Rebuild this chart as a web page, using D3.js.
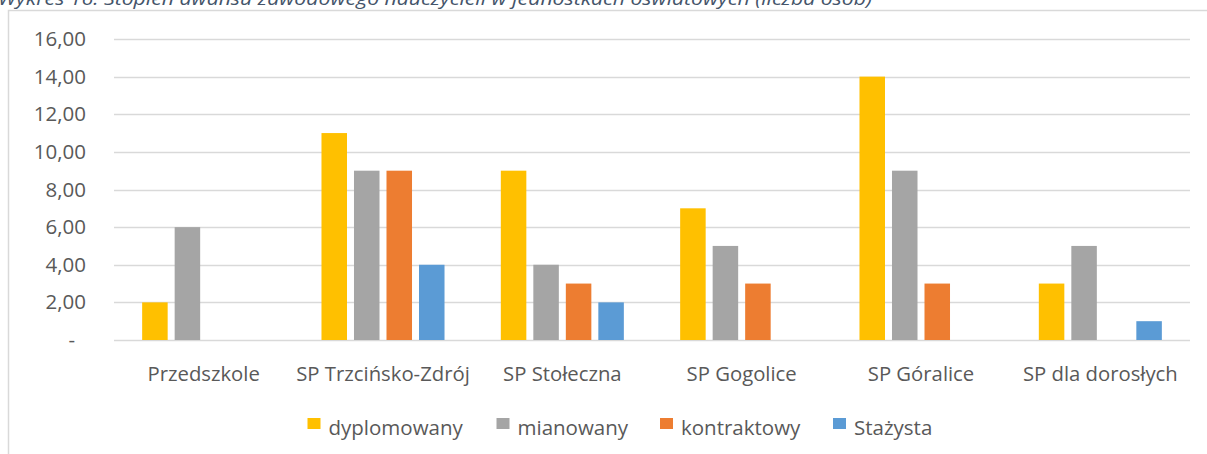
<!DOCTYPE html>
<html>
<head>
<meta charset="utf-8">
<script src="https://cdn.jsdelivr.net/npm/d3@7"></script>
<style>
  body { margin: 0; background: #fff; }
  svg { display: block; }
  text { font-family: "Open Sans", "Noto Sans", sans-serif; }
</style>
</head>
<body>
<div id="chart"></div>
<script>
// chart data
var categories = ["Przedszkole", "SP Trzcińsko-Zdrój", "SP Stołeczna", "SP Gogolice", "SP Góralice", "SP dla dorosłych"];
var seriesNames = ["dyplomowany", "mianowany", "kontraktowy", "Stażysta"];
var dyplomowany = [2, 11, 9, 7, 14, 3];
var mianowany = [6, 9, 4, 5, 9, 5];
var kontraktowy = [0, 9, 3, 3, 3, 0];
var stazysta = [0, 4, 2, 0, 0, 1];
var yTicks = [0, 2, 4, 6, 8, 10, 12, 14, 16];
var colors = ["#FFC000", "#A5A5A5", "#ED7D31", "#5B9BD5"];

var seriesValues = [dyplomowany, mianowany, kontraktowy, stazysta];

var svgWidth = 1207;
var svgHeight = 454;

// plot area
var plot = { left: 114, right: 1190, top: 39, bottom: 340 };

var svg = d3.select("#chart")
  .append("svg")
  .attr("width", svgWidth)
  .attr("height", svgHeight);

// chart frame (left and top edges visible)
svg.append("path")
  .attr("d", "M8.5," + svgHeight + "V10.5H" + svgWidth)
  .attr("fill", "none")
  .attr("stroke", "#D9D9D9")
  .attr("stroke-width", 1.5);

// title, cut at the top of the picture like in the source
svg.append("text")
  .attr("x", -2)
  .attr("y", 5)
  .attr("fill", "#44546A")
  .style("font-size", "19px")
  .style("font-style", "italic")
  .attr("textLength", 874)
  .attr("lengthAdjust", "spacingAndGlyphs")
  .text("Wykres 16. Stopień awansu zawodowego nauczycieli w jednostkach oświatowych (liczba osób)");

var y = d3.scaleLinear()
  .domain([0, 16])
  .range([plot.bottom, plot.top]);

var x0 = d3.scaleBand()
  .domain(categories)
  .range([plot.left, plot.right])
  .paddingInner(0.275)
  .paddingOuter(0.1375);

var x1 = d3.scaleBand()
  .domain(seriesNames)
  .range([0, x0.bandwidth()])
  .paddingInner(0.215)
  .paddingOuter(0.1075);

// gridlines
svg.append("g")
  .selectAll("line")
  .data(yTicks)
  .enter()
  .append("line")
  .attr("x1", plot.left)
  .attr("x2", plot.right)
  .attr("y1", d => Math.round(y(d)) + 0.5)
  .attr("y2", d => Math.round(y(d)) + 0.5)
  .attr("stroke", "#D9D9D9")
  .attr("stroke-width", 1.3);

// y axis labels
var leftAxis = d3.axisLeft(y)
  .tickValues(yTicks)
  .tickSize(0)
  .tickPadding(0)
  .tickFormat(d => d === 0 ? "-" : d.toFixed(2).replace(".", ","));

var yAxis = svg.append("g")
  .attr("transform", "translate(86,0)")
  .call(leftAxis);
yAxis.select(".domain").remove();
yAxis.selectAll("text")
  .attr("fill", "#595959")
  .style("font-size", "20.5px")
  .attr("dx", d => d === 0 ? -11 : 0);

// bars
var groups = svg.append("g")
  .selectAll("g")
  .data(categories)
  .enter()
  .append("g")
  .attr("transform", d => "translate(" + x0(d) + ",0)");

groups.selectAll("rect")
  .data((d, i) => seriesNames.map((s, j) => ({ series: s, value: seriesValues[j][i], color: colors[j] })))
  .enter()
  .filter(d => d.value > 0)
  .append("rect")
  .attr("x", d => x1(d.series))
  .attr("width", x1.bandwidth())
  .attr("y", d => y(d.value))
  .attr("height", d => y(0) - y(d.value))
  .attr("fill", d => d.color);

// category labels
var bottomAxis = d3.axisBottom(x0)
  .tickSize(0)
  .tickPadding(0);

var xAxis = svg.append("g")
  .attr("transform", "translate(0,366.5)")
  .call(bottomAxis);
xAxis.select(".domain").remove();
xAxis.selectAll("text")
  .attr("fill", "#595959")
  .style("font-size", "20.3px");

// legend
var legendX = [307.5, 496.5, 660, 833];
var legend = svg.append("g")
  .selectAll("g")
  .data(seriesNames)
  .enter()
  .append("g")
  .attr("transform", (d, i) => "translate(" + legendX[i] + ",418)");

legend.append("rect")
  .attr("width", 13)
  .attr("height", 11)
  .attr("fill", (d, i) => colors[i]);

legend.append("text")
  .attr("x", 21)
  .attr("y", 16.7)
  .attr("fill", "#595959")
  .style("font-size", "20.5px")
  .text(d => d);
</script>
</body>
</html>
